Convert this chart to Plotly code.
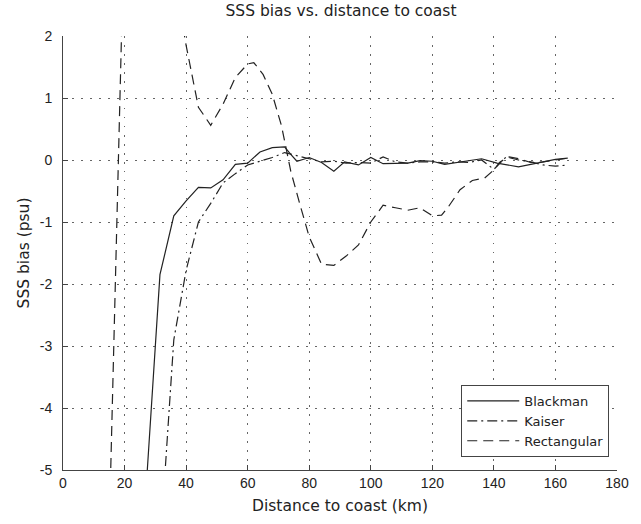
import plotly.graph_objects as go

# ---- data ----
blackman_x = [27, 31.5, 36, 40, 44, 48, 52, 56, 60, 64, 68, 72, 74, 76, 80, 84, 88, 91.5, 96, 100,
              104, 108, 112, 116, 120, 124, 129, 136, 141, 144, 148, 154, 160, 164]
blackman_y = [-5.3, -1.85, -0.9, -0.66, -0.44, -0.45, -0.32, -0.07, -0.05, 0.13, 0.2, 0.21, 0.09, -0.02,
              0.04, -0.04, -0.18, -0.03, -0.08, 0.04, -0.06, -0.06, -0.05, -0.01, -0.02, -0.07, -0.03,
              0.02, -0.05, -0.08, -0.11, -0.05, 0.01, 0.03]

kaiser_x = [32, 36, 40, 44, 48, 52, 56, 60, 64, 68, 72, 76, 80, 84, 88, 92, 96, 100, 104, 108, 112,
            116, 120, 124, 128, 132, 136, 140, 144, 148, 152, 156, 160, 164]
kaiser_y = [-5.9, -2.9, -1.78, -1.0, -0.7, -0.37, -0.22, -0.08, -0.02, 0.04, 0.12, 0.07, 0.03, -0.03,
            -0.02, -0.05, -0.04, -0.05, 0.05, -0.03, -0.05, -0.03, -0.03, -0.05, -0.03, -0.04, 0.0,
            -0.15, 0.05, 0.0, -0.03, -0.08, -0.1, -0.08]

rect_x = [15, 20, 26, 32, 36, 40, 44, 48, 52, 56, 60, 62, 65, 68, 71, 74, 77, 80, 84, 88, 92, 96, 100,
          104, 108, 112, 116, 120, 123, 125, 129, 133, 137, 140, 142, 145, 148, 152, 156, 160, 164]
rect_y = [-6, 4, 9, 8, 3.0, 1.85, 0.85, 0.56, 0.9, 1.33, 1.55, 1.57, 1.38, 1.06, 0.55, -0.18, -0.72,
          -1.24, -1.68, -1.70, -1.55, -1.37, -1.0, -0.73, -0.77, -0.81, -0.77, -0.90, -0.89, -0.77,
          -0.48, -0.33, -0.29, -0.16, -0.03, 0.05, 0.02, -0.04, -0.03, 0.0, 0.03]

x_ticks = [0, 20, 40, 60, 80, 100, 120, 140, 160, 180]
y_ticks = [-5, -4, -3, -2, -1, 0, 1, 2]

INK = "#222222"
TICKFONT = "Liberation Sans, Arial, sans-serif"
LABELFONT = "DejaVu Sans, sans-serif"

fig = go.Figure()
fig.add_trace(go.Scatter(x=blackman_x, y=blackman_y, mode="lines", name="Blackman",
                         line=dict(color=INK, width=1.2, dash="solid")))
fig.add_trace(go.Scatter(x=kaiser_x, y=kaiser_y, mode="lines", name="Kaiser",
                         line=dict(color=INK, width=1.2, dash="10px,4px,2px,4px")))
fig.add_trace(go.Scatter(x=rect_x, y=rect_y, mode="lines", name="Rectangular",
                         line=dict(color=INK, width=1.2, dash="10px,6px")))

axis_common = dict(
    showline=True, linecolor="#444", linewidth=1, mirror=False,
    ticks="inside", ticklen=5, tickcolor="#444",
    showgrid=True, gridcolor="#666", gridwidth=1, griddash="1.5px,7.5px",
    zeroline=False, tickfont=dict(size=14, color=INK, family=TICKFONT),
)

fig.update_xaxes(range=[0, 180], tickvals=x_ticks, ticktext=[str(v) for v in x_ticks],
                 title=dict(text="Distance to coast (km)", font=dict(size=15.5, color=INK, family=LABELFONT), standoff=10),
                 **axis_common)
fig.update_yaxes(range=[-5, 2], tickvals=y_ticks, ticktext=[str(v) for v in y_ticks],
                 ticklabelstandoff=7,
                 title=dict(text="SSS bias (psu)", font=dict(size=15.5, color=INK, family=LABELFONT), standoff=6),
                 **axis_common)

fig.update_layout(
    width=641, height=524,
    margin=dict(l=63, r=21, t=36, b=48),
    paper_bgcolor="white", plot_bgcolor="white",
    font=dict(family=LABELFONT, color=INK, size=13),
    title=dict(text="SSS bias vs. distance to coast", x=0.532, xanchor="center", y=0.99, yanchor="top",
               font=dict(size=15.5, color=INK, family=LABELFONT)),
    showlegend=True,
    legend=dict(x=0.986, xanchor="right", y=0.03, yanchor="bottom",
                bgcolor="white", bordercolor="#444", borderwidth=1,
                itemwidth=52,
                font=dict(size=13, color=INK, family=LABELFONT), tracegroupgap=0),
)

fig.write_html("out.html")
